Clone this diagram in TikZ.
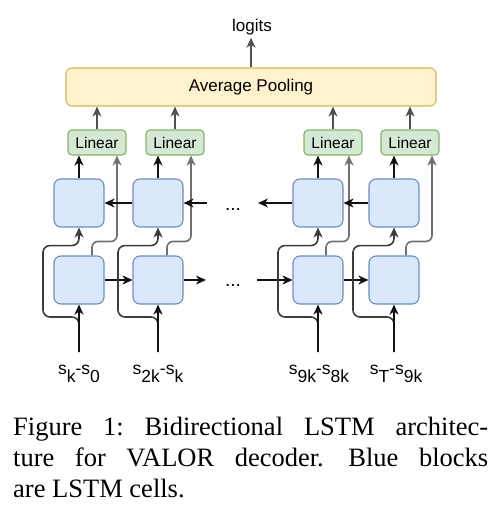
\documentclass[tikz,border=0pt]{standalone}
\usepackage{fontspec}
\setmainfont{Liberation Serif}
\newfontfamily\arialf{Liberation Sans}
\usetikzlibrary{arrows.meta,calc}
\definecolor{lstmfill}{HTML}{DAE8FC}
\definecolor{lstmdraw}{HTML}{6C8EBF}
\definecolor{linfill}{HTML}{D5E8D4}
\definecolor{lindraw}{HTML}{82B366}
\definecolor{poolfill}{HTML}{FFF2CC}
\definecolor{pooldraw}{HTML}{D6B656}
\definecolor{darkline}{HTML}{111111}
\definecolor{branchline}{HTML}{3C3C3C}
\definecolor{grayline}{HTML}{707070}
\definecolor{poolline}{HTML}{505050}
\tikzset{
  cell/.style={draw=lstmdraw, fill=lstmfill, rounded corners=7pt, minimum width=50pt, minimum height=48pt, inner sep=0pt, line width=1.1pt},
  linbox/.style={draw=lindraw, fill=linfill, rounded corners=4pt, minimum width=58pt, minimum height=25pt, inner sep=0pt, line width=1.1pt, font=\arialf\fontsize{15.5}{18}\selectfont},
  poolbox/.style={draw=pooldraw, fill=poolfill, rounded corners=6pt, minimum width=370pt, minimum height=38pt, inner sep=0pt, line width=1.1pt, font=\arialf\fontsize{17}{20}\selectfont},
  tip/.style={-{Stealth[length=10pt,width=9pt,inset=3pt]}},
  blackarrow/.style={tip, draw=darkline, line width=1.6pt},
  grayarrow/.style={tip, draw=grayline, line width=1.6pt, rounded corners=6pt},
  brancharrow/.style={tip, draw=branchline, line width=1.6pt, rounded corners=7pt},
  poolarrow/.style={tip, draw=poolline, line width=1.6pt},
  seqlabel/.style={anchor=base, inner sep=0pt, font=\arialf\fontsize{17.5}{20}\selectfont},
  dotlabel/.style={inner sep=0pt, font=\arialf\fontsize{19}{20}\selectfont},
  caption/.style={anchor=base west, inner sep=0pt, font=\fontsize{26.5}{31}\selectfont\frenchspacing}
}
\newcommand{\lowsub}[1]{\raisebox{-8pt}{#1}}
\begin{document}
\begin{tikzpicture}[x=1pt,y=-1pt]
\useasboundingbox (0,0) rectangle (502,509);

% pooling and logits
\node[poolbox] (pool) at (251,87) {Average Pooling};
\node[anchor=base, inner sep=3pt, font=\arialf\fontsize{17}{20}\selectfont] (logits) at (252,31) {logits};
\draw[poolarrow] (pool.north) -- (pool.north |- logits.south);

% LSTM cells
\node[cell] (u1) at (79,203) {};
\node[cell] (u2) at (158,203) {};
\node[cell] (u3) at (318,203) {};
\node[cell] (u4) at (394,203) {};
\node[cell] (l1) at (79,280) {};
\node[cell] (l2) at (158,280) {};
\node[cell] (l3) at (318,280) {};
\node[cell] (l4) at (394,280) {};

% Linear boxes
\node[linbox] (f1) at (97,142.5) {Linear};
\node[linbox] (f2) at (175,142.5) {Linear};
\node[linbox] (f3) at (333,142.5) {Linear};
\node[linbox] (f4) at (410,142.5) {Linear};

% linear -> pooling
\foreach \f in {f1,f2,f3,f4}{
  \draw[poolarrow] (\f.north) -- (\f.north |- pool.south);
}

% upper cell -> linear
\foreach \u/\f in {u1/f1,u2/f2,u3/f3,u4/f4}{
  \draw[blackarrow] (\u.north) -- (\u.north |- \f.south);
}

% lower cell -> linear (gray)
\draw[grayarrow] ([xshift=13pt]l1.north) -- ++(0,-14) -| ([xshift=20pt]f1.south);
\draw[grayarrow] ([xshift=9pt]l2.north) -- ++(0,-14) -| ([xshift=16pt]f2.south);
\draw[grayarrow] ([xshift=8pt]l3.north) -- ++(0,-14) -| ([xshift=16pt]f3.south);
\draw[grayarrow] ([xshift=12pt]l4.north) -- ++(0,-14) -| ([xshift=22pt]f4.south);

% horizontal connections
\coordinate (ubreak) at (207,203);
\coordinate (utip) at (258,203);
\coordinate (lbreak) at (206,280);
\coordinate (lstart) at (257,280);
\draw[blackarrow] (u2.west) -- (u1.east);
\draw[blackarrow] (ubreak) -- (u2.east);
\draw[blackarrow] (u3.west) -- (utip);
\draw[blackarrow] (u4.west) -- (u3.east);
\draw[blackarrow] (l1.east) -- (l2.west);
\draw[blackarrow] (l2.east) -- (lbreak);
\draw[blackarrow] (lstart) -- (l3.west);
\draw[blackarrow] (l3.east) -- (l4.west);

\node[dotlabel] (dotsu) at (233,209) {...};
\node[dotlabel] (dotsl) at (233,285) {...};

% inputs
\coordinate (in1) at (79,352);
\coordinate (in2) at (158,352);
\coordinate (in3) at (318,352);
\coordinate (in4) at (394,352);

\draw[brancharrow] (in1) |- (43,317) |- ($(u1.south)+(0,18)$) -- (u1.south);
\draw[brancharrow] (in2) |- (118,317) |- ($(u2.south)+(0,18)$) -- (u2.south);
\draw[brancharrow] (in3) |- (278,317) |- ($(u3.south)+(0,18)$) -- (u3.south);
\draw[brancharrow] (in4) |- (353,317) |- ($(u4.south)+(0,18)$) -- (u4.south);

\draw[blackarrow] (in1) -- (l1.south);
\draw[blackarrow] (in2) -- (l2.south);
\draw[blackarrow] (in3) -- (l3.south);
\draw[blackarrow] (in4) -- (l4.south);

% labels
\node[seqlabel] (s1) at (79,374) {s\lowsub{k}-s\lowsub{0}};
\node[seqlabel] (s2) at (158,374) {s\lowsub{2k}-s\lowsub{k}};
\node[seqlabel] (s3) at (319,374) {s\lowsub{9k}-s\lowsub{8k}};
\node[seqlabel] (s4) at (396,374) {s\lowsub{T}-s\lowsub{9k}};

% caption
\node[caption] (cap1) at (13,435) {\makebox[475pt][s]{Figure 1: Bidirectional LSTM architec-}};
\node[caption] (cap2) at (13,466) {\makebox[475pt][s]{ture for VALOR decoder.\hspace{4pt} Blue blocks}};
\node[caption] (cap3) at (13,497) {are LSTM cells.};
\end{tikzpicture}
\end{document}
